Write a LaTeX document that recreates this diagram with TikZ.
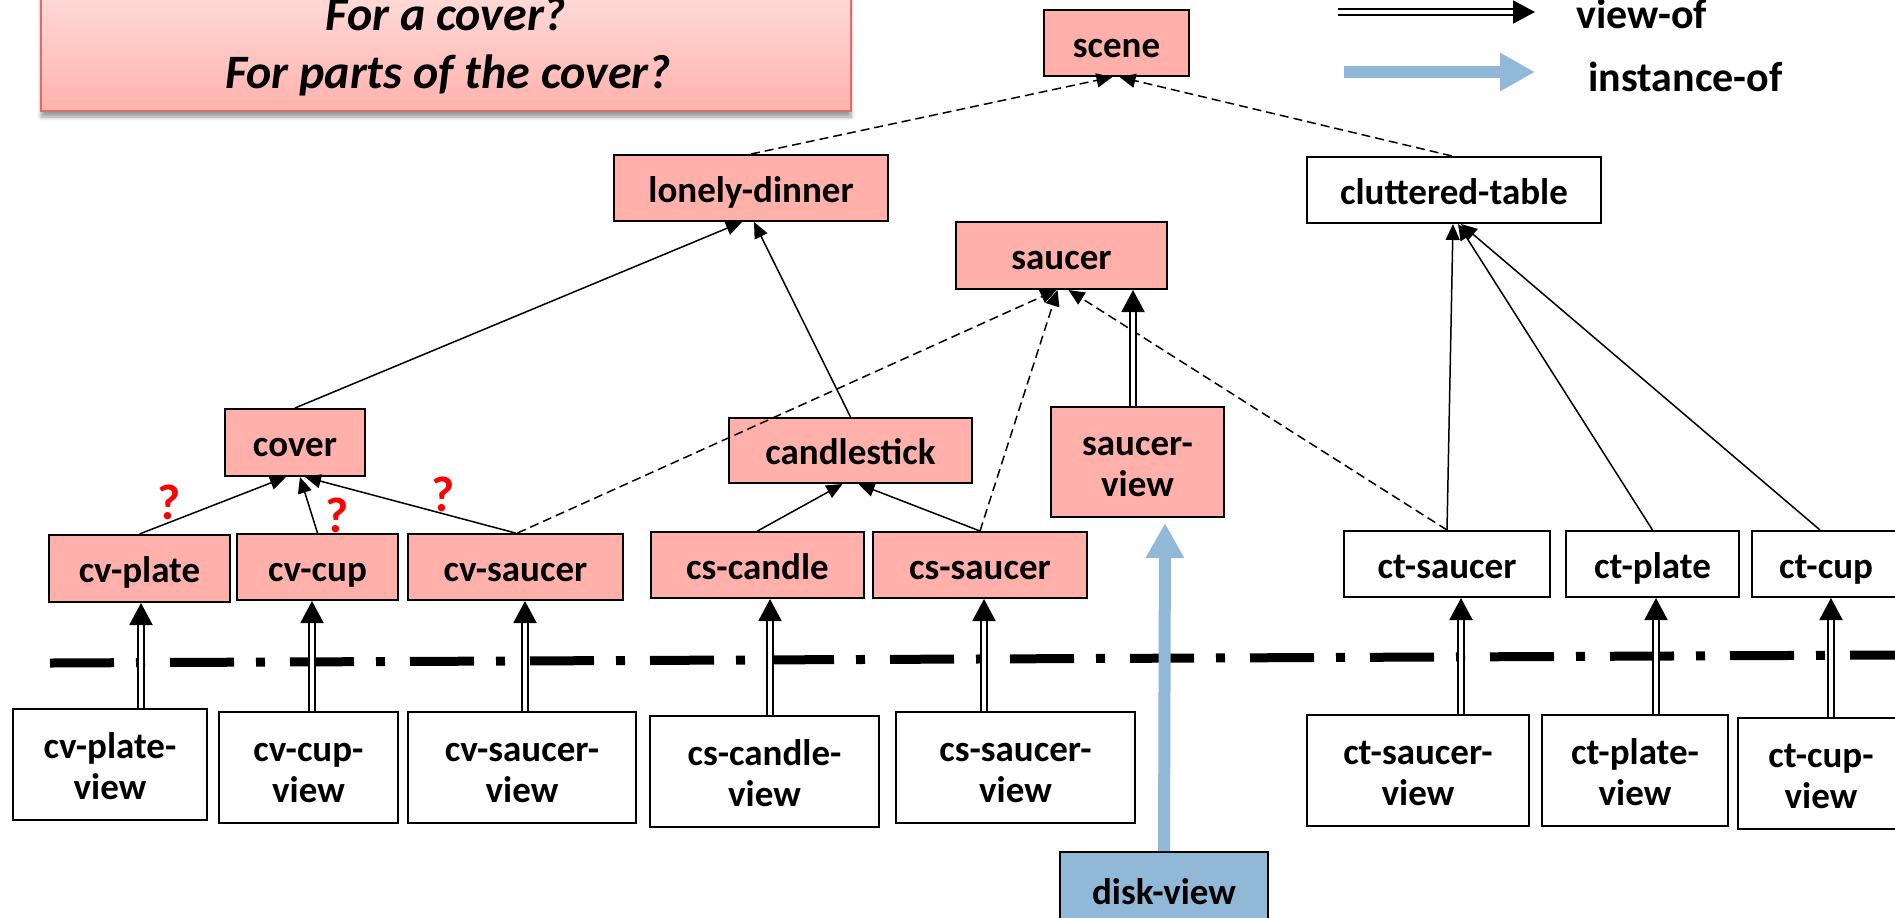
\documentclass[tikz,border=0pt]{standalone}
\usepackage{fontspec}
\setmainfont{Carlito}
\usetikzlibrary{arrows.meta,calc,shadows.blur}

\definecolor{objpink}{RGB}{255,176,171}
\definecolor{hdrtop}{RGB}{255,218,216}
\definecolor{hdrbot}{RGB}{255,178,173}
\definecolor{hdredge}{RGB}{214,112,106}
\definecolor{instblue}{RGB}{145,184,214}

% strut that puts the baseline a little below the box centre
\newcommand\st{\rule[-3pt]{0pt}{20pt}}

\tikzset{
  box/.style={draw=black, line width=1pt, inner sep=0pt, align=center,
    font=\fontsize{18.5}{20.5}\selectfont\bfseries},
  objbox/.style={box, fill=objpink},
  viewbox/.style={box, fill=white},
  sz/.style 2 args={minimum width=#1*0.5pt, minimum height=#2*0.5pt},
  partof/.style={draw=black, line width=0.75pt, -{Triangle[width=7pt,length=8pt]}},
  isa/.style={partof, dash pattern=on 4.5pt off 2.5pt},
  viewof/.style={draw=black, line width=1pt, double=white, double distance=1.65pt,
    -{Triangle[width=11.5pt,length=11pt]}},
  instof/.style={draw=instblue, line width=6pt, -{Triangle[width=18pt,length=17.5pt]}},
  qmark/.style={text=red, font=\fontsize{25}{28}\selectfont\bfseries, inner sep=0pt},
  sepline/.style={line width=4.5pt, dash pattern=on 32pt off 11pt on 4.5pt off 12.5pt},
  legendtxt/.style={font=\fontsize{21}{25}\selectfont\bfseries, inner sep=0pt},
}

\begin{document}
\begin{tikzpicture}[x=0.5pt, y=-0.5pt]
\useasboundingbox (0,0) rectangle (1895,917);

% question box
\node[draw=hdredge, line width=1pt, top color=hdrtop, bottom color=hdrbot,
      minimum width=405pt, minimum height=59pt, inner sep=0pt,
      blur shadow={shadow xshift=0pt, shadow yshift=-3pt, shadow blur steps=6, shadow opacity=40}]
      (qbox) at (446,52) {};
\node[anchor=base, font=\fontsize{24}{29}\selectfont\bfseries\itshape, inner sep=0pt]
      (qa) at (446,30) {For a cover?};
\node[anchor=base, font=\fontsize{24}{29}\selectfont\bfseries\itshape, inner sep=0pt]
      (qb) at (448,88) {For parts of the cover?};

% legend
\coordinate (lvA) at (1338,12);  \coordinate (lvB) at (1535,12);
\coordinate (liA) at (1344,72);  \coordinate (liB) at (1535,72);
\draw[viewof] (lvA) -- (lvB);
\draw[instof] (liA) -- (liB);
\node[legendtxt, anchor=base west] (lv) at (1576,28) {view-of};
\node[legendtxt, anchor=base west] (li) at (1588,91) {instance-of};

% separator between objects and views
\coordinate (sepL) at (50,663);
\coordinate (sepR) at (1900,655);
\draw[sepline] (sepL) -- (sepR);

% object nodes
\node[objbox, sz={145}{66}] (scene) at (1116.5,43) {\st scene};
\node[objbox, sz={274}{66}] (lonely) at (751,188) {\st lonely-dinner};
\node[viewbox, sz={294}{66}] (clutter) at (1454,190) {\st cluttered-table};
\node[objbox, sz={211}{67}] (saucer) at (1061.5,255.5) {\st saucer};
\node[objbox, sz={140}{67}] (cover) at (295,442.5) {\st cover};
\node[objbox, sz={243}{65}] (candle) at (850.5,450.5) {\st candlestick};
\node[objbox, sz={173}{110}] (sview) at (1137.5,462) {\st saucer-\\\st view};
\node[objbox, sz={181}{67}] (cvplate) at (139.5,568.5) {\st cv-plate};
\node[objbox, sz={161}{66}] (cvcup) at (317.5,567) {\st cv-cup};
\node[objbox, sz={215}{66}] (cvsaucer) at (515.5,567) {\st cv-saucer};
\node[objbox, sz={213}{66}] (cscandle) at (757.5,565) {\st cs-candle};
\node[objbox, sz={214}{66}] (cssaucer) at (980,565) {\st cs-saucer};
\node[viewbox, sz={206}{66}] (ctsaucer) at (1447,564) {\st ct-saucer};
\node[viewbox, sz={173}{66}] (ctplate) at (1652.5,564) {\st ct-plate};
\node[viewbox, sz={148}{66}] (ctcup) at (1826,564) {\st ct-cup};

% view nodes
\node[viewbox, sz={194}{111}] (cvplatev) at (110,764.5) {\st cv-plate-\\\st view};
\node[viewbox, sz={179}{111}] (cvcupv) at (308.5,767.5) {\st cv-cup-\\\st view};
\node[viewbox, sz={228}{111}] (cvsaucerv) at (522,767.5) {\st cv-saucer-\\\st view};
\node[viewbox, sz={229}{111}] (cscandlev) at (764.5,771.5) {\st cs-candle-\\\st view};
\node[viewbox, sz={239}{111}] (cssaucerv) at (1015.5,767.5) {\st cs-saucer-\\\st view};
\node[viewbox, sz={222}{111}] (ctsaucerv) at (1418,770.5) {\st ct-saucer-\\\st view};
\node[viewbox, sz={186}{111}] (ctplatev) at (1635,770.5) {\st ct-plate-\\\st view};
\node[viewbox, sz={166}{111}] (ctcupv) at (1821,773.5) {\st ct-cup-\\\st view};
\node[box, fill=instblue, sz={208}{76}] (disk) at (1164,890) {\st disk-view};

% is-a (dashed) links
\draw[isa] (lonely.north) -- ($(scene.south)+(-4,0)$);
\draw[isa] ($(clutter.north)+(-2,0)$) -- ($(scene.south)+(3,0)$);
\draw[isa] ($(cvsaucer.north)+(2,0)$) -- ($(saucer.south)+(-5,0)$);
\draw[isa] (cssaucer.north) -- ($(saucer.south)+(-4,0)$);
\draw[isa] (ctsaucer.north) -- ($(saucer.south)+(7,0)$);

% part-of links
\draw[partof] (cover.north) -- ($(lonely.south)+(-9,0)$);
\draw[partof] (candle.north) -- ($(lonely.south)+(3,0)$);
\draw[partof] (cvplate.north) -- ($(cover.south)+(-9,0)$);
\draw[partof] (cvcup.north) -- ($(cover.south)+(5,0)$);
\draw[partof] (cvsaucer.north) -- ($(cover.south)+(10,0)$);
\draw[partof] (cscandle.north) -- ($(candle.south)+(-8,0)$);
\draw[partof] (cssaucer.north) -- ($(candle.south)+(8,0)$);
\draw[partof] (ctsaucer.north) -- ($(clutter.south)+(-1,0)$);
\draw[partof] (ctplate.north) -- ($(clutter.south)+(4,0)$);
\draw[partof] ($(ctcup.north)+(-6,0)$) -- ($(clutter.south)+(7,0)$);

% view-of links
\draw[viewof] ($(sview.north)+(-4.5,0)$) -- ($(saucer.south)+(71.5,0)$);
\draw[viewof] ($(cvplatev.north)+(31,0)$) -- ($(cvplate.south)+(1.5,0)$);
\draw[viewof] ($(cvcupv.north)+(3.5,0)$) -- ($(cvcup.south)+(-5.5,0)$);
\draw[viewof] ($(cvsaucerv.north)+(3,0)$) -- ($(cvsaucer.south)+(9.5,0)$);
\draw[viewof] ($(cscandlev.north)+(5.5,0)$) -- ($(cscandle.south)+(12.5,0)$);
\draw[viewof] ($(cssaucerv.north)+(-31.5,0)$) -- ($(cssaucer.south)+(4,0)$);
\draw[viewof] ($(ctsaucerv.north)+(43,0)$) -- ($(ctsaucer.south)+(14,0)$);
\draw[viewof] ($(ctplatev.north)+(21,0)$) -- ($(ctplate.south)+(3.5,0)$);
\draw[viewof] ($(ctcupv.north)+(10,0)$) -- ($(ctcup.south)+(5,0)$);

% instance-of link
\draw[instof] (disk.north) -- ($(sview.south)+(27.5,5)$);

% open questions
\node[qmark] (q1) at (169,502) {?};
\node[qmark] (q2) at (337,515) {?};
\node[qmark] (q3) at (443,494) {?};
\end{tikzpicture}
\end{document}
